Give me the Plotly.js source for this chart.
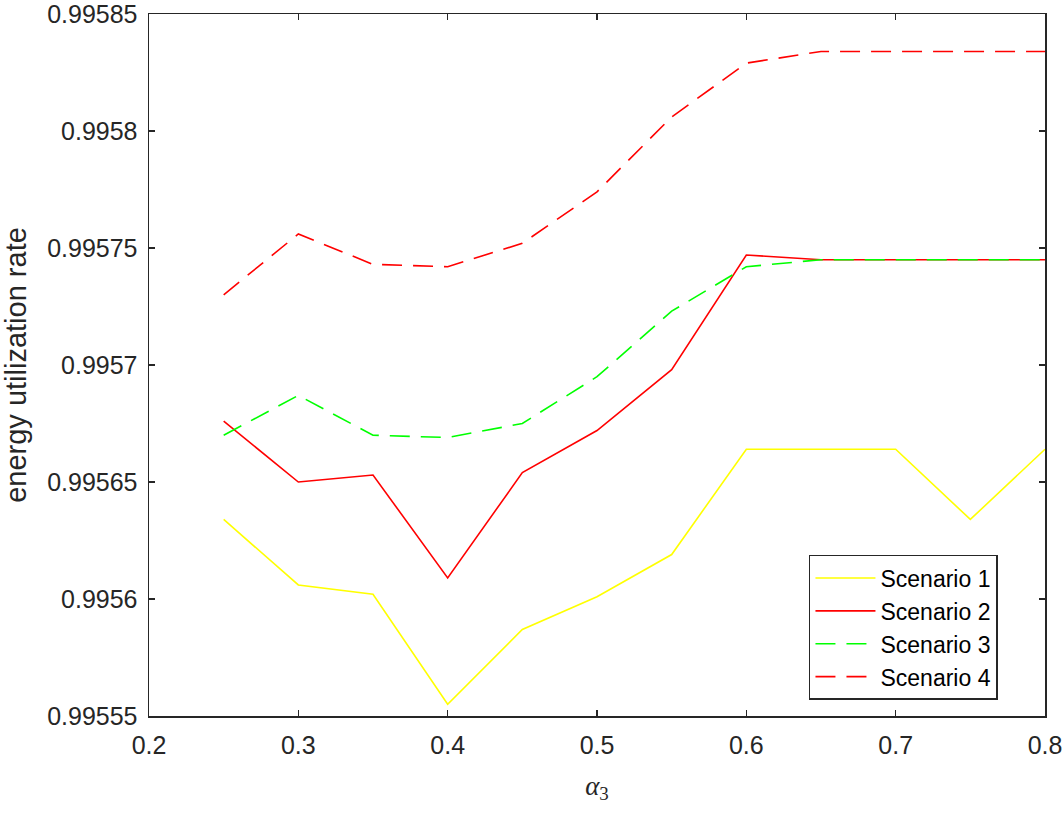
<!DOCTYPE html>
<html>
<head>
<meta charset="utf-8">
<script src="https://cdn.plot.ly/plotly-3.0.1.min.js"></script>
<style>html,body{margin:0;padding:0;background:#fff;}#chart{width:1063px;height:814px;}</style>
</head>
<body>
<div id="chart"></div>
<script>
const alpha3 = [0.25, 0.3, 0.35, 0.4, 0.45, 0.5, 0.55, 0.6, 0.65, 0.7, 0.75, 0.8];
const scenario1 = [0.995634, 0.995606, 0.995602, 0.995555, 0.995587, 0.995601, 0.995619, 0.995664, 0.995664, 0.995664, 0.995634, 0.995664];
const scenario2 = [0.995676, 0.995650, 0.995653, 0.995609, 0.995654, 0.995672, 0.995698, 0.995747, 0.995745, 0.995745, 0.995745, 0.995745];
const scenario3 = [0.995670, 0.995687, 0.995670, 0.995669, 0.995675, 0.995695, 0.995723, 0.995742, 0.995745, 0.995745, 0.995745, 0.995745];
const scenario4 = [0.995730, 0.995756, 0.995743, 0.995742, 0.995752, 0.995774, 0.995806, 0.995829, 0.995834, 0.995834, 0.995834, 0.995834];
const xTickVals = [0.2, 0.3, 0.4, 0.5, 0.6, 0.7, 0.8];
const xTickText = ['0.2', '0.3', '0.4', '0.5', '0.6', '0.7', '0.8'];
const yTickVals = [0.99555, 0.9956, 0.99565, 0.9957, 0.99575, 0.9958, 0.99585];
const yTickText = ['0.99555', '0.9956', '0.99565', '0.9957', '0.99575', '0.9958', '0.99585'];

const font = 'Liberation Sans, Arial, sans-serif';
const traces = [
  {x: alpha3, y: scenario1, name: 'Scenario 1', mode: 'lines', line: {color: '#ffff00', width: 1.6}},
  {x: alpha3, y: scenario2, name: 'Scenario 2', mode: 'lines', line: {color: '#ff0000', width: 1.6}},
  {x: alpha3, y: scenario3, name: 'Scenario 3', mode: 'lines', line: {color: '#00ff00', width: 1.6, dash: '20px,11px'}},
  {x: alpha3, y: scenario4, name: 'Scenario 4', mode: 'lines', line: {color: '#ff0000', width: 1.6, dash: '20px,11px'}}
];
const axisCommon = {
  showgrid: false, zeroline: false, showline: true, mirror: 'ticks',
  linecolor: '#262626', linewidth: 1.5, ticks: 'inside', ticklen: 6, tickcolor: '#262626', tickwidth: 1.5,
  tickfont: {family: font, size: 25, color: '#262626'}, ticklabeloverflow: 'allow'
};
const layout = {
  width: 1063, height: 814,
  margin: {l: 149, r: 18, t: 14, b: 98},
  paper_bgcolor: '#fff', plot_bgcolor: '#fff',
  showlegend: true,
  legend: {x: 0.9475, y: 0.0228, xanchor: 'right', yanchor: 'bottom', bgcolor: '#fff',
    bordercolor: '#262626', borderwidth: 1.5, font: {family: font, size: 23, color: '#000'},
    tracegroupgap: 0, itemwidth: 60},
  xaxis: Object.assign({}, axisCommon, {range: [0.2, 0.8], tickvals: xTickVals, ticktext: xTickText, ticklabelstandoff: 6,
    title: {text: '<i>α</i><sub>3</sub>', font: {family: 'Liberation Serif, Times New Roman, serif', size: 27, color: '#262626'}, standoff: 18}}),
  yaxis: Object.assign({}, axisCommon, {range: [0.99555, 0.995850001], tickvals: yTickVals, ticktext: yTickText, ticklabelstandoff: 5,
    title: {text: 'energy utilization rate', font: {family: font, size: 29, color: '#262626'}, standoff: 12}})
};
Plotly.newPlot('chart', traces, layout, {displayModeBar: false, staticPlot: true});
</script>
</body>
</html>
